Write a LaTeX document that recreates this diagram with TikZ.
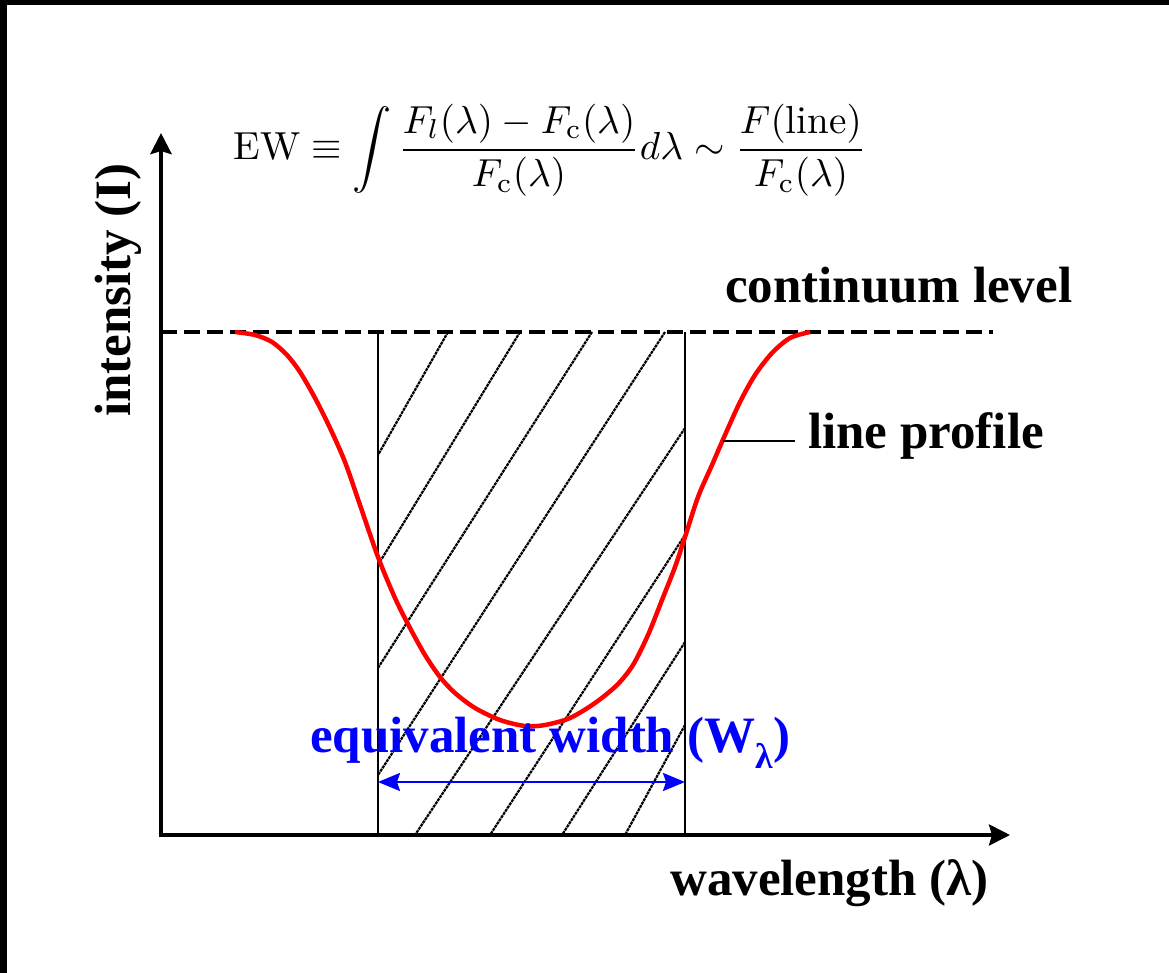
\documentclass[tikz,border=0pt]{standalone}
\usepackage{fontspec}
\newfontfamily\lblfont{Liberation Serif}
\usetikzlibrary{arrows.meta,positioning}
\begin{document}
\begin{tikzpicture}[x=1pt, y=-1pt,
  lbl/.style={font=\lblfont\bfseries\fontsize{51}{58}\selectfont, inner sep=0pt, anchor=base west},
  axis/.style={-{Stealth[length=21pt,width=21pt,inset=3pt]}},
  cont/.style={line width=4.5pt, dash pattern=on 16pt off 7pt},
  edge/.style={line width=2pt},
  hatch/.style={line width=2.2pt, dash pattern=on 3pt off 0.8pt},
  prof/.style={red, line width=4.5pt, line join=round},
  ewarrow/.style={blue, line width=2.4pt, {Stealth[length=22pt,width=18pt,inset=3pt]}-{Stealth[length=22pt,width=18pt,inset=3pt]}}]
\fill[white] (0,0) rectangle (1169,973);
\fill[black] (0,0) rectangle (7,973);
\fill[black] (0,0) rectangle (1169,5);
\useasboundingbox (0,0) rectangle (1169,973);
\coordinate (O) at (161,835);
\coordinate (ytip) at (161,133);
\coordinate (xtip) at (1010,835);
\coordinate (cl) at (161,332);
\coordinate (cr) at (993,332);
\coordinate (wl) at (378,332);
\coordinate (wr) at (685,332);
\coordinate (al) at (378,782);
\coordinate (ar) at (685,782);
\coordinate (tick) at (723,441);
\foreach \ax/\ay/\bx/\by in {448/332/378/455, 520/332/378/565, 592/332/378/668, 665/332/378/775,
  685/428/415/835, 685/535/490/835, 685/642/562/835, 685/725/625/835}
  \draw[hatch] (\ax,\ay) -- (\bx,\by);
\draw[edge] (wl) -- (wl |- O);
\draw[edge] (wr) -- (wr |- O);
\draw[cont] (cl) -- (cr);
\draw[axis, line width=4.5pt] (O) -- (ytip);
\draw[axis, line width=3.5pt] ([xshift=-2pt]O) -- (xtip);
\draw[prof] plot[smooth, tension=0.5] coordinates {(235,332) (255,335) (272,342) (287,355) (300,372)
  (315,398) (330,428) (345,462) (360,505) (378,557) (395,598) (410,628) (425,655) (440,677)
  (455,693) (475,708) (500,720) (525,726) (545,725) (570,718) (595,703) (617,685) (633,665)
  (648,635) (662,600) (675,567) (685,537) (698,497) (712,465) (725,435) (740,402) (755,375)
  (772,353) (790,338) (810,332)};
\draw[ewarrow] (al) -- (ar);
\node[lbl] (cont) at (725,303) {continuum level};
\node[lbl] (lp) at (808,448) {line profile};
\draw[line width=1.5pt, shorten >=13pt] (tick) -- (tick -| lp.west);
\node[lbl] (wav) at (670,895) {wavelength (λ)};
\node[lbl, text=blue] (eqw) at (310,752) {equivalent width (W\textsubscript{λ})};
\node[lbl, rotate=90] (int) at (130,417) {intensity (I)};
\node[inner sep=0pt] (ew) at (550,150) {\resizebox{633pt}{!}{$\displaystyle
  \mathrm{EW}\equiv\int\frac{F_l(\lambda)-F_{\mathrm{c}}(\lambda)}{F_{\mathrm{c}}(\lambda)}d\lambda
  \sim\frac{F(\mathrm{line})}{F_{\mathrm{c}}(\lambda)}$}};
\end{tikzpicture}
\end{document}
